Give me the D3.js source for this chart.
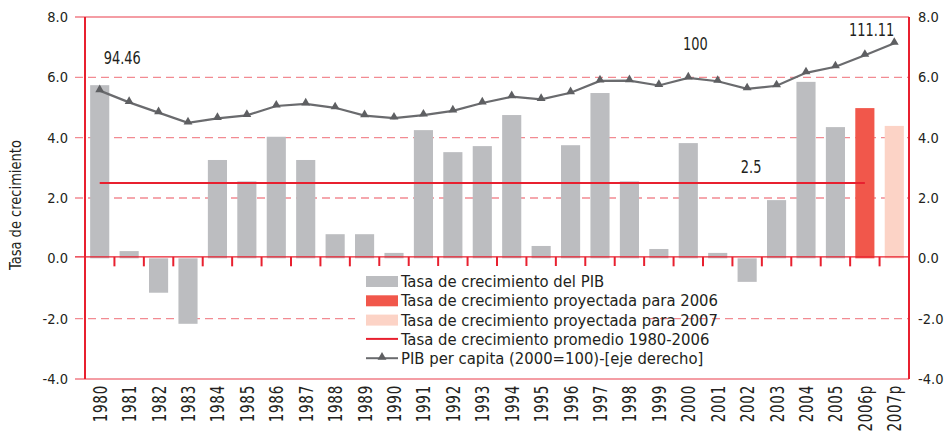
<!DOCTYPE html>
<html>
<head>
<meta charset="utf-8">
<script src="https://cdn.jsdelivr.net/npm/d3@7"></script>
<style>
  body { margin: 0; background: #fff; }
  text { font-family: "DejaVu Sans Condensed", "DejaVu Sans", sans-serif; fill: #231f20; }
</style>
</head>
<body>
<div id="visualization"></div>
<script>
// categories and series
const years = ['1980','1981','1982','1983','1984','1985','1986','1987','1988','1989',
               '1990','1991','1992','1993','1994','1995','1996','1997','1998','1999',
               '2000','2001','2002','2003','2004','2005','2006p','2007p'];
const growth = [5.74, 0.24, -1.14, -2.17, 3.26, 2.55, 4.03, 3.26, 0.8, 0.8,
                0.18, 4.25, 3.52, 3.72, 4.75, 0.41, 3.75, 5.48, 2.55, 0.31,
                3.82, 0.18, -0.78, 1.93, 5.85, 4.35, 4.98, 4.39];
// PIB per capita, plotted on the right axis
const perCapita = [5.56, 5.17, 4.83, 4.49, 4.64, 4.74, 5.05, 5.12, 4.99, 4.73,
                   4.65, 4.75, 4.89, 5.15, 5.36, 5.27, 5.49, 5.88, 5.89, 5.73,
                   5.98, 5.87, 5.62, 5.72, 6.15, 6.35, 6.73, 7.13];
const perCapitaLabels = [['1980', '94.46'], ['2000', '100'], ['2007p', '111.11']];
const averageGrowth = 2.5;
const averageSpan = ['1980', '2006p'];
const yTicks = [8, 6, 4, 2, 0, -2, -4];
const legendLabels = ['Tasa de crecimiento del PIB',
                      'Tasa de crecimiento proyectada para 2006',
                      'Tasa de crecimiento proyectada para 2007',
                      'Tasa de crecimiento promedio 1980-2006',
                      'PIB per capita (2000=100)-[eje derecho]'];

const width = 944, height = 436;
const margin = {top: 17, right: 35, bottom: 57, left: 85};
const axisRed = '#e8202f', gridRed = '#f28b92', gray = '#bcbdc0', lineGray = '#6a6b6e';
const barColor = (d, i) => years[i] === '2006p' ? '#f1574b' : (years[i] === '2007p' ? '#fcd3c6' : gray);
const fmt = d => d.toFixed(1);

const svg = d3.select('#visualization')
    .append('svg')
        .attr('width', width)
        .attr('height', height);

const x = d3.scaleBand()
    .domain(years)
    .range([margin.left, width - margin.right])
    .paddingInner(0.35)
    .paddingOuter(0.175);

const y = d3.scaleLinear()
    .domain([-4, 8])
    .range([height - margin.bottom, margin.top]);
// right axis uses the same ticks
const yRight = d3.scaleLinear()
    .domain([-4, 8])
    .range([height - margin.bottom, margin.top]);

const x0 = margin.left, x1 = width - margin.right;

// dashed gridlines, sticking out left as ticks
svg.append('g')
    .selectAll('line')
    .data(yTicks.filter(d => d !== 0 && d !== 8 && d !== -4))
    .join('line')
        .attr('x1', x0 - 10)
        .attr('x2', x1)
        .attr('y1', d => y(d))
        .attr('y2', d => y(d))
        .attr('stroke', gridRed)
        .attr('stroke-width', 1.3)
        .attr('stroke-dasharray', '8,5');

// top and bottom borders
[8, -4].forEach(v => {
    svg.append('line')
        .attr('x1', x0 - 10).attr('x2', x1)
        .attr('y1', y(v)).attr('y2', y(v))
        .attr('stroke', '#f07c86')
        .attr('stroke-width', 1.6);
});

// left axis labels
const yAxis = d3.axisLeft(y).tickValues(yTicks).tickFormat(fmt).tickSize(0).tickPadding(17);
const gy = svg.append('g')
    .attr('transform', `translate(${x0},0)`)
    .call(yAxis);
gy.select('.domain').remove();
gy.selectAll('text').style('font-size', '14.5px').attr('fill', '#231f20');

// right axis labels
const yAxisR = d3.axisRight(yRight).tickValues(yTicks).tickFormat(fmt).tickSize(0).tickPadding(9);
const gyr = svg.append('g')
    .attr('transform', `translate(${x1},0)`)
    .call(yAxisR);
gyr.select('.domain').remove();
gyr.selectAll('text').style('font-size', '14.5px').attr('fill', '#231f20');

// bars
svg.append('g')
    .selectAll('rect')
    .data(growth)
    .join('rect')
        .attr('x', (d, i) => x(years[i]))
        .attr('y', d => y(Math.max(0, d)))
        .attr('width', x.bandwidth())
        .attr('height', d => Math.abs(y(d) - y(0)))
        .attr('fill', barColor);

// zero line with category ticks
svg.append('line')
    .attr('x1', x0 - 10).attr('x2', x1)
    .attr('y1', y(0) - 1.5).attr('y2', y(0) - 1.5)
    .attr('stroke', axisRed)
    .attr('stroke-width', 1.3);
svg.append('g')
    .selectAll('line')
    .data(years.slice(1))
    .join('line')
        .attr('x1', d => x(d) - x.step() * x.paddingInner() / 2)
        .attr('x2', d => x(d) - x.step() * x.paddingInner() / 2)
        .attr('y1', y(0) - 1.5)
        .attr('y2', y(0) + 8)
        .attr('stroke', axisRed)
        .attr('stroke-width', 2);

// left and right axis lines
[x0, x1].forEach(xx => {
    svg.append('line')
        .attr('x1', xx).attr('x2', xx)
        .attr('y1', y(8)).attr('y2', y(-4))
        .attr('stroke', axisRed)
        .attr('stroke-width', 2);
});

// average growth line
svg.append('line')
    .attr('x1', x(averageSpan[0]) + x.bandwidth() / 2)
    .attr('x2', x(averageSpan[1]) + x.bandwidth() / 2)
    .attr('y1', y(averageGrowth))
    .attr('y2', y(averageGrowth))
    .attr('stroke', axisRed)
    .attr('stroke-width', 2);
svg.append('text')
    .attr('transform', `translate(${x('2002') + x.bandwidth() / 2 + 4},${y(averageGrowth) - 10}) scale(0.8,1)`)
    .attr('text-anchor', 'middle')
    .style('font-size', '18px')
    .text(fmt(averageGrowth));

// PIB per capita line
const line = d3.line()
    .x((d, i) => x(years[i]) + x.bandwidth() / 2)
    .y(d => yRight(d));
svg.append('path')
    .datum(perCapita)
    .attr('d', line)
    .attr('fill', 'none')
    .attr('stroke', lineGray)
    .attr('stroke-width', 2.2);
const tri = d3.symbol().type(d3.symbolTriangle).size(34);
svg.append('g')
    .selectAll('path')
    .data(perCapita)
    .join('path')
        .attr('d', tri)
        .attr('transform', (d, i) => `translate(${x(years[i]) + x.bandwidth() / 2},${yRight(d) - 1})`)
        .attr('fill', '#5e5f62');

// per capita labels
const labelOffset = {'1980': [4, -27, 'start'], '2000': [7, -28, 'middle'], '2007p': [0, -7, 'end']};
svg.append('g')
    .selectAll('text')
    .data(perCapitaLabels)
    .join('text')
        .attr('transform', d => `translate(${x(d[0]) + x.bandwidth() / 2 + labelOffset[d[0]][0]},${yRight(perCapita[years.indexOf(d[0])]) + labelOffset[d[0]][1]}) scale(0.8,1)`)
        .attr('text-anchor', d => labelOffset[d[0]][2])
        .style('font-size', '18px')
        .text(d => d[1]);

// category labels, rotated and squeezed
svg.append('g')
    .selectAll('text')
    .data(years)
    .join('text')
        .attr('transform', d => `translate(${x(d) + x.bandwidth() / 2 + 7},${y(-4) + 6}) rotate(-90) scale(0.75,1)`)
        .attr('text-anchor', 'end')
        .style('font-size', '20px')
        .style('letter-spacing', '1px')
        .text(d => d);

// y axis title
svg.append('text')
    .attr('transform', `translate(21, ${(y(8) + y(-4)) / 2 + 7}) rotate(-90) scale(0.88,1)`)
    .attr('text-anchor', 'middle')
    .style('font-size', '16.5px')
    .text('Tasa de crecimiento');

// legend
const legend = svg.append('g').attr('transform', 'translate(366, 276)');
legend.append('rect')
    .attr('x', -11).attr('y', -10)
    .attr('width', 294).attr('height', 104)
    .attr('fill', '#fff');
const rowH = 19.3;
legendLabels.forEach((label, i) => {
    const g = legend.append('g').attr('transform', `translate(0, ${i * rowH})`);
    if (i < 3) {
        g.append('rect')
            .attr('width', 32).attr('height', 11)
            .attr('fill', [gray, '#f1574b', '#fcd3c6'][i]);
    } else if (i === 3) {
        g.append('line')
            .attr('x1', 0).attr('x2', 32).attr('y1', 5).attr('y2', 5)
            .attr('stroke', axisRed).attr('stroke-width', 2);
    } else {
        g.append('line')
            .attr('x1', 0).attr('x2', 32).attr('y1', 5).attr('y2', 5)
            .attr('stroke', lineGray).attr('stroke-width', 2);
        g.append('path')
            .attr('d', tri)
            .attr('transform', 'translate(16,4)')
            .attr('fill', '#5e5f62');
    }
    g.append('text')
        .attr('x', 35)
        .attr('y', 11)
        .style('font-size', '16.5px')
        .text(label);
});
</script>
</body>
</html>
